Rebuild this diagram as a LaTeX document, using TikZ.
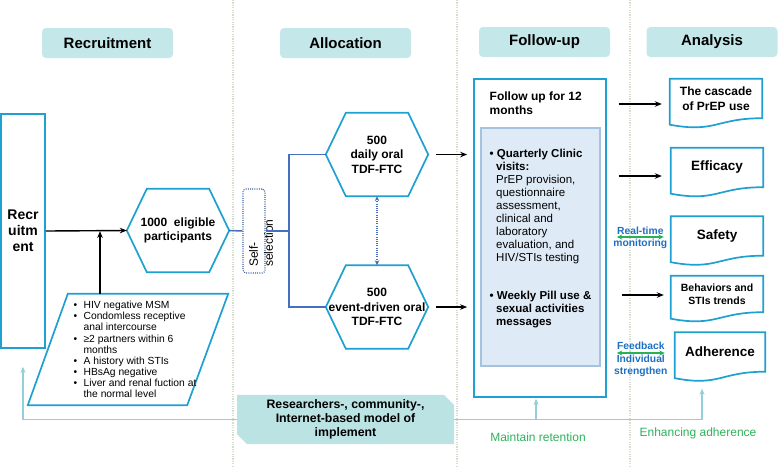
\documentclass[tikz,border=0pt]{standalone}
\usepackage{fontspec}
\setmainfont{Liberation Sans}
\usetikzlibrary{arrows.meta,shapes.misc}

\definecolor{boxcyan}{RGB}{30,160,208}
\definecolor{headfill}{RGB}{196,231,234}
\definecolor{resfill}{RGB}{188,227,228}
\definecolor{branchblue}{RGB}{70,112,190}
\definecolor{selblue}{RGB}{60,95,160}
\definecolor{sepgreen}{RGB}{212,224,204}
\definecolor{innerfill}{RGB}{223,234,247}
\definecolor{innerline}{RGB}{165,195,222}
\definecolor{fbline}{RGB}{145,208,214}
\definecolor{arrgreen}{RGB}{40,178,85}
\definecolor{txtgreen}{RGB}{45,178,90}
\definecolor{txtblue}{RGB}{30,110,195}

\newcommand\setfs[2]{\fontsize{#1}{#2}\selectfont}
\newcommand\critem{\hspace*{14pt}\makebox[10pt][l]{\textbullet}}
\newcommand\critnext{\hspace*{24pt}}
\newcommand\visnext{\hspace*{6.5pt}}

\begin{document}
\begin{tikzpicture}[x=1pt,y=-1pt,
  head/.style={fill=headfill,rounded corners=4pt,minimum width=131pt,minimum height=30pt,inner sep=0pt,font=\bfseries\setfs{15}{18}},
  boxline/.style={draw=boxcyan,line width=1.7pt},
  hexa/.style={minimum width=102pt,minimum height=83pt,inner sep=0pt,align=center,font=\bfseries\setfs{12}{14.5},
    append after command={\pgfextra{\draw[boxline] (\tikzlastnode.west) -- ([xshift=20pt]\tikzlastnode.north west) -- ([xshift=-20pt]\tikzlastnode.north east) -- (\tikzlastnode.east) -- ([xshift=-20pt]\tikzlastnode.south east) -- ([xshift=20pt]\tikzlastnode.south west) -- cycle;}}},
  docu/.style={minimum width=92pt,minimum height=39pt,inner sep=0pt,align=center,font=\bfseries\setfs{13.5}{16},
    append after command={\pgfextra{\draw[boxline] (\tikzlastnode.south east) -- (\tikzlastnode.north east) -- (\tikzlastnode.north west) -- ([yshift=-6.5pt]\tikzlastnode.south west) .. controls ([yshift=-15pt]\tikzlastnode.south) and (\tikzlastnode.south) .. (\tikzlastnode.south east) -- cycle;}}},
  crit/.style={minimum width=200pt,minimum height=111pt,inner sep=0pt,align=left,font=\setfs{10.3}{11.1},
    append after command={\pgfextra{\draw[boxline] ([xshift=40pt]\tikzlastnode.north west) -- (\tikzlastnode.north east) -- ([xshift=-41pt]\tikzlastnode.south east) -- (\tikzlastnode.south west) -- cycle;}}},
  branch/.style={draw=branchblue,line width=1.5pt},
  dotarr/.style={draw=branchblue,line width=1.1pt,dash pattern=on 1pt off 1.2pt,{Stealth[length=5pt,width=4.5pt]}-{Stealth[length=5pt,width=4.5pt]}},
  arr/.style={line width=1.4pt,-{Stealth[length=7pt,width=5.5pt]}},
  dbl/.style={draw=arrgreen,line width=1.4pt,{Stealth[length=5.5pt,width=5pt]}-{Stealth[length=5.5pt,width=5pt]}},
  lbl/.style={text=txtblue,font=\bfseries\setfs{10.3}{12}},
  fb/.style={draw=fbline,line width=1.2pt,-{Stealth[length=6pt,width=5pt]}},
  gtxt/.style={text=txtgreen,font=\setfs{12}{14}},
  sep/.style={draw=sepgreen,line width=1.2pt,dash pattern=on 1.2pt off 1.2pt}]
\useasboundingbox (0,0) rectangle (778,467);

\foreach \sx in {233,457,630}
  \draw[sep] (\sx,0) -- (\sx,467);

\node[head] (hrec) at (107.5,43) {Recruitment};
\node[head] (hall) at (345.5,43) {Allocation};
\node[head] (hfol) at (544.5,42) {Follow-up};
\node[head] (hana) at (712,42) {Analysis};

\node[boxline,minimum width=44pt,minimum height=234pt,align=center,font=\bfseries\setfs{14}{16}] (rec) at (23,231) {Recr\\uitm\\ent};
\node[hexa] (elig) at (178,230.5) {1000\ \ eligible\\participants};
\draw[arr] (rec.east) -- (elig.west);

\node[crit] (crits) at (128,349.5) {\critem HIV negative MSM\\
\critem Condomless receptive\\
\critnext anal intercourse\\
\critem ≥2 partners within 6\\
\critnext months\\
\critem A history with STIs\\
\critem HBsAg negative\\
\critem Liver and renal fuction at\\
\critnext the normal level};
\draw[arr] ([xshift=-28pt]crits.north) -- ([xshift=-28pt]crits.north |- rec.east);

\node[draw=selblue,line width=1.1pt,dash pattern=on 1pt off 1.2pt,rounded corners=3pt,minimum width=22pt,minimum height=84pt] (sel) at (254,231) {};
\node[rotate=90,align=left,inner sep=0pt,font=\setfs{12}{15}] (selT) at (261,243) {Self-\\selection};

\node[hexa] (daily) at (377,154.5) {500\\daily oral\\TDF-FTC};
\node[hexa] (event) at (377,307) {500\\event-driven oral\\TDF-FTC};

\coordinate (br) at (289,231);
\draw[branch] (elig.east) -- (sel.west);
\draw[branch] (sel.east) -- (br);
\draw[branch] (daily.west) -| (br) |- (event.west);
\draw[dotarr] (daily.south) -- (event.north);

\node[boxline,inner sep=0pt,minimum width=132pt,minimum height=318pt] (fol) at (540,238) {};
\node[draw=innerline,fill=innerfill,line width=1.2pt,inner sep=0pt,minimum width=119pt,minimum height=238pt] (vis) at (540.5,247) {};
\node[anchor=north west,align=left,inner sep=0pt,font=\bfseries\setfs{12}{14}] (folT) at (489.5,91.5) {Follow up for 12\\months};
\node[anchor=north west,align=left,inner sep=0pt,font=\setfs{11.5}{13}] (visQ) at (489.5,148.5) {\textbf{\textbullet\ Quarterly Clinic}\\
\visnext\textbf{visits:}\\
\visnext PrEP provision,\\
\visnext questionnaire\\
\visnext assessment,\\
\visnext clinical and\\
\visnext laboratory\\
\visnext evaluation, and\\
\visnext HIV/STIs testing};
\node[anchor=north west,align=left,inner sep=0pt,font=\bfseries\setfs{11.5}{13}] (visW) at (489.5,290.5) {\textbullet\ Weekly Pill use \&\\
\visnext sexual activities\\
\visnext messages};

\draw[arr,shorten <=8pt,shorten >=6pt] (daily.east) -- (daily.east -| fol.west);
\draw[arr,shorten <=8pt,shorten >=6pt] (event.east) -- (event.east -| fol.west);

\node[docu,font=\bfseries\setfs{12}{15}] (casc) at (716,98.5) {The cascade\\of PrEP use};
\node[docu] (effi) at (717,167.5) {Efficacy};
\node[docu] (safe) at (717,236) {Safety};
\node[docu,minimum height=36pt,font=\bfseries\setfs{10.5}{12.5}] (beha) at (717,294) {Behaviors and\\STIs trends};
\node[docu,minimum width=90pt] (adhe) at (720,352) {Adherence};

\draw[arr] ([xshift=-51pt,yshift=-5.5pt]casc.west) -- ([xshift=-8pt,yshift=-5.5pt]casc.west);
\draw[arr] ([xshift=-52pt,yshift=-8.5pt]effi.west) -- ([xshift=-9pt,yshift=-8.5pt]effi.west);
\draw[arr] ([xshift=-49pt,yshift=-1pt]beha.west) -- ([xshift=-7pt,yshift=-1pt]beha.west);
\draw[dbl] ([xshift=-54pt,yshift=-1pt]safe.west) -- node[lbl,midway,above,inner sep=2pt] (rtime) {Real-time} node[lbl,midway,below,inner sep=1.5pt] (moni) {monitoring} ([xshift=-7pt,yshift=-1pt]safe.west);
\draw[dbl] ([xshift=-58pt,yshift=-1pt]adhe.west) -- node[lbl,midway,above,inner sep=2.5pt] (feed) {Feedback} node[lbl,midway,below,inner sep=1.5pt,align=center] (indi) {Individual\\strengthen} ([xshift=-10pt,yshift=-1pt]adhe.west);

\node[chamfered rectangle,chamfered rectangle corners={north east,south west},chamfered rectangle xsep=5pt,chamfered rectangle ysep=5pt,fill=resfill,inner sep=0pt,minimum width=217pt,minimum height=45pt,align=center,font=\bfseries\setfs{12.3}{14}] (res) at (345.5,419.5) {Researchers-, community-,\\Internet-based model of\\implement};

\draw[fb] (res.west) -| ([yshift=-18pt]rec.south);
\draw[fb] (res.east) -| ([xshift=-4pt,yshift=-1pt]fol.south);
\draw[fb] (res.east) -| ([xshift=-18pt,yshift=-17pt]adhe.south);

\node[gtxt] (keep) at (538,437) {Maintain retention};
\node[gtxt] (enha) at (698,433) {Enhancing adherence};
\end{tikzpicture}
\end{document}
